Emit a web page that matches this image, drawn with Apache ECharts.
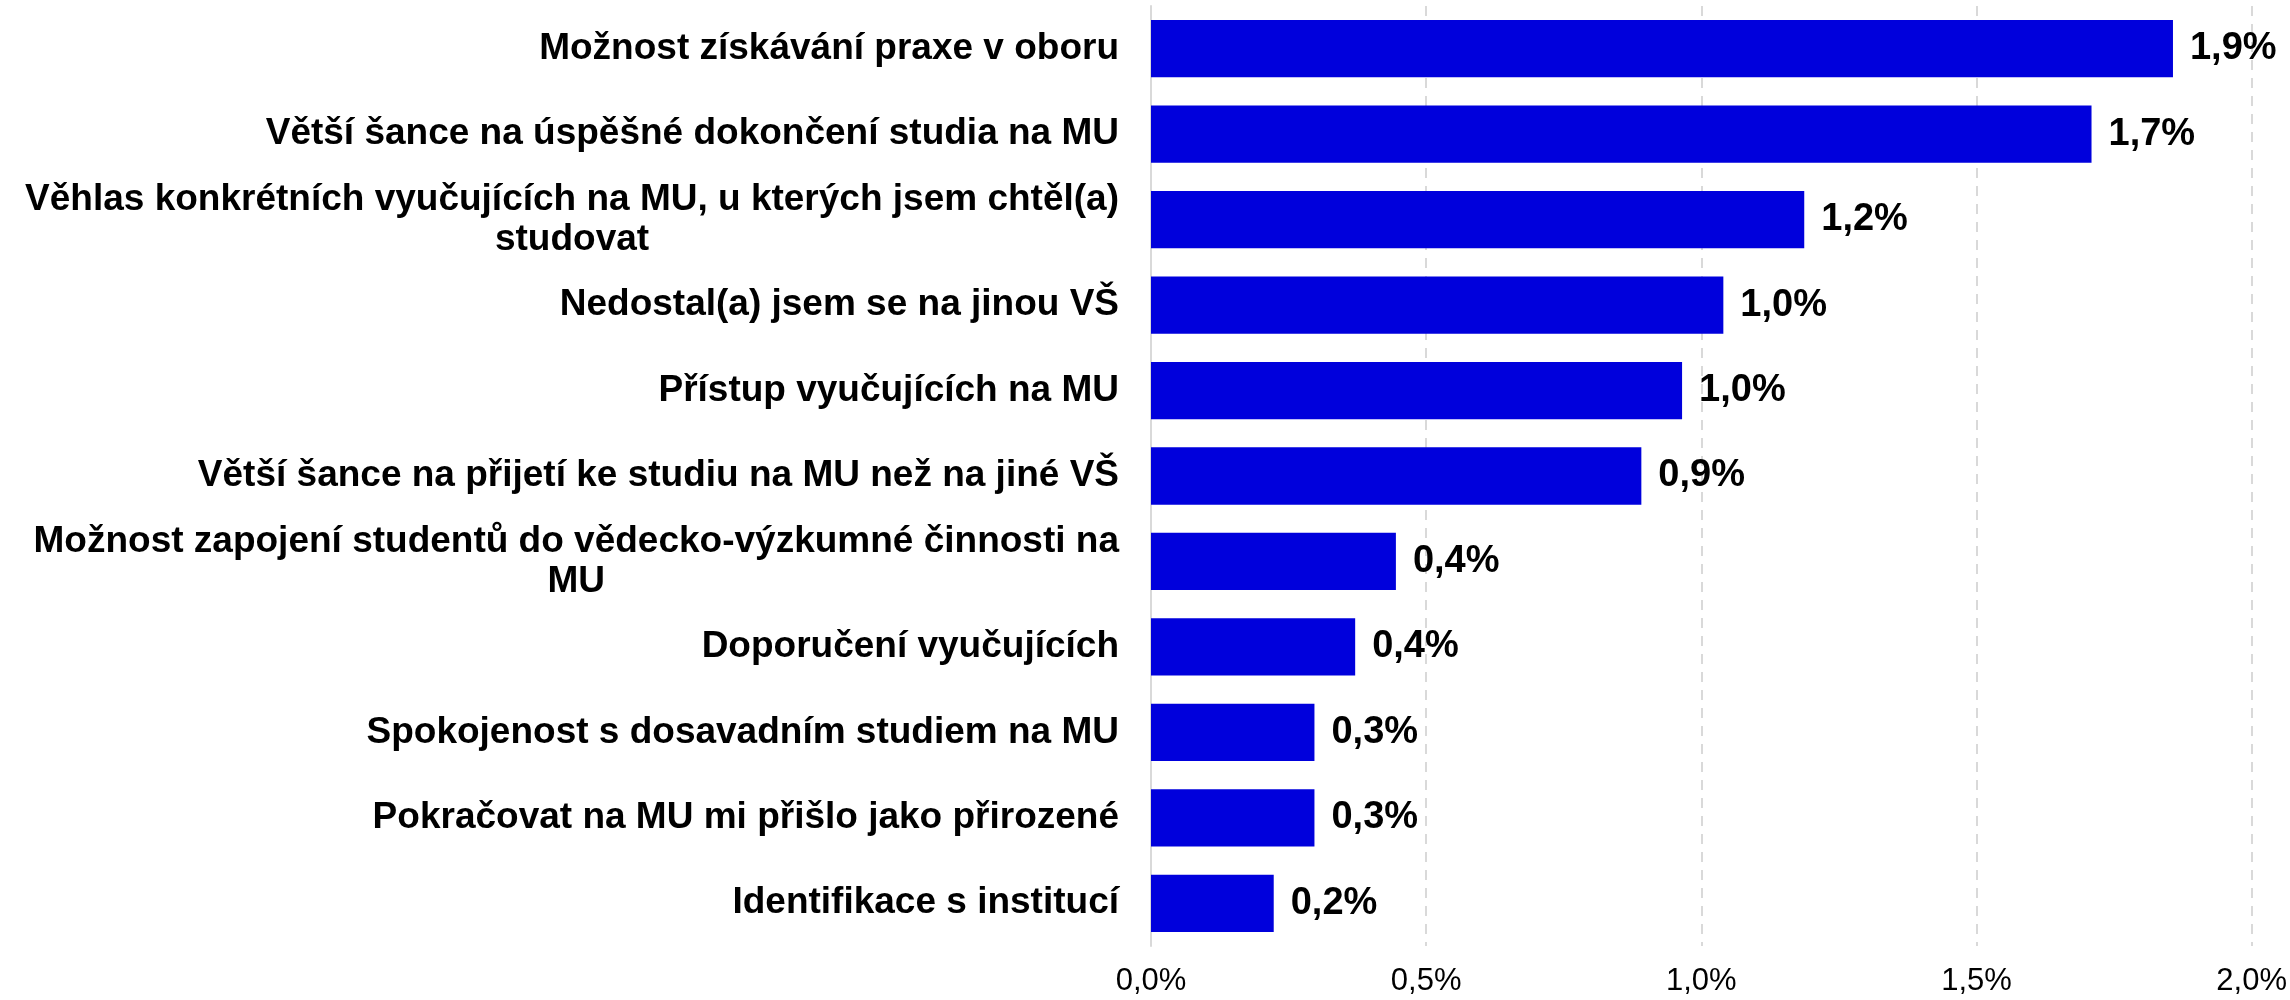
<!DOCTYPE html>
<html>
<head>
<meta charset="utf-8">
<script src="https://cdn.jsdelivr.net/npm/echarts@6/dist/echarts.min.js"></script>
<style>
html,body{margin:0;padding:0;background:#fff;}
#chart{width:2290px;height:1000px;}
</style>
</head>
<body>
<div id="chart"></div>
<script>
const categories = [
  "Možnost získávání praxe v oboru",
  "Větší šance na úspěšné dokončení studia na MU",
  "Věhlas konkrétních vyučujících na MU, u kterých jsem chtěl(a)\nstudovat",
  "Nedostal(a) jsem se na jinou VŠ",
  "Přístup vyučujících na MU",
  "Větší šance na přijetí ke studiu na MU než na jiné VŠ",
  "Možnost zapojení studentů do vědecko-výzkumné činnosti na\nMU",
  "Doporučení vyučujících",
  "Spokojenost s dosavadním studiem na MU",
  "Pokračovat na MU mi přišlo jako přirozené",
  "Identifikace s institucí"
];
const values = [1.857, 1.709, 1.187, 1.040, 0.965, 0.891, 0.445, 0.371, 0.297, 0.297, 0.223];
const xTicks = [0, 0.5, 1.0, 1.5, 2.0];

const fmt = v => v.toFixed(1).replace('.', ',') + '%';
const FONT = '"Liberation Sans", Arial, sans-serif';

const chart = echarts.init(document.getElementById('chart'), null, {renderer: 'canvas'});
chart.setOption({
  animation: false,
  backgroundColor: '#ffffff',
  grid: {left: 1151, right: 29, top: 6, bottom: 54, containLabel: false},
  xAxis: {
    type: 'value',
    min: xTicks[0],
    max: xTicks[xTicks.length - 1],
    interval: 0.5,
    axisLine: {show: false},
    axisTick: {show: false},
    splitLine: {show: true, lineStyle: {color: '#d9d9d9', width: 2, type: [10, 8]}},
    axisLabel: {
      formatter: v => fmt(v),
      fontFamily: FONT,
      fontSize: 31,
      color: '#000',
      margin: 20,
      showMaxLabel: true
    }
  },
  yAxis: {
    type: 'category',
    data: categories,
    inverse: true,
    axisLine: {show: true, lineStyle: {color: '#d9d9d9', width: 2}},
    axisTick: {show: false},
    axisLabel: {
      margin: 32,
      align: 'right',
      fontFamily: FONT,
      fontSize: 37,
      fontWeight: 'bold',
      color: '#000',
      lineHeight: 40,
      formatter: v => v.split('\n').map(l => '{c|' + l + '}').join('\n'),
      rich: {
        c: {align: 'center', fontFamily: FONT, fontSize: 37, fontWeight: 'bold', color: '#000', lineHeight: 40}
      }
    }
  },
  series: [{
    type: 'bar',
    data: values,
    barWidth: '67%',
    itemStyle: {color: '#0000dc'},
    label: {
      show: true,
      position: 'right',
      distance: 17,
      formatter: p => fmt(p.value),
      fontFamily: FONT,
      fontSize: 38,
      fontWeight: 'bold',
      color: '#000'
    }
  }]
});
</script>
</body>
</html>
